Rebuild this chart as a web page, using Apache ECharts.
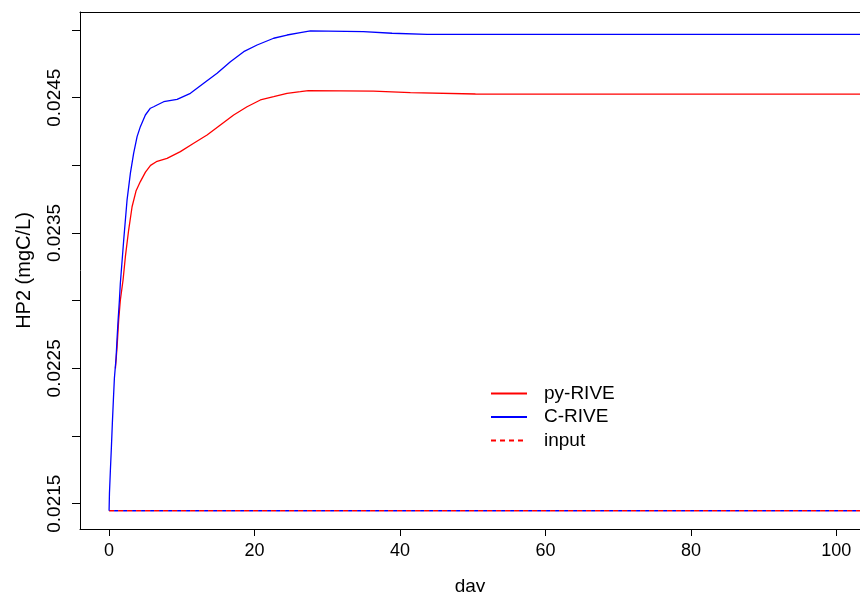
<!DOCTYPE html>
<html>
<head>
<meta charset="utf-8">
<script src="https://cdn.jsdelivr.net/npm/echarts@6/dist/echarts.min.js"></script>
<style>
  html, body { margin: 0; padding: 0; background: #fff; }
  #chart { width: 860px; height: 592px; }
</style>
</head>
<body>
<div id="chart"></div>
<script>
// HP2 concentration (mgC/L) over simulation days, two model versions and the input level
const pyRiveDay = [0.87, 1.10, 1.32, 1.55, 1.92, 2.24, 2.69, 3.16, 3.70, 4.30, 5.00, 5.70, 6.60, 7.97, 9.80, 11.63, 13.47, 15.30, 17.13, 18.97, 20.80, 22.63, 24.47, 26.30, 27.40, 36.34, 41.43, 50.37, 75.0, 104.0];
const pyRiveVal = [0.022500, 0.022660, 0.022857, 0.023005, 0.023153, 0.023325, 0.023522, 0.023694, 0.023810, 0.023880, 0.023950, 0.024000, 0.024030, 0.024052, 0.024101, 0.024163, 0.024224, 0.024298, 0.024372, 0.024433, 0.024483, 0.024507, 0.024532, 0.024544, 0.024552, 0.024549, 0.024537, 0.024527, 0.024526, 0.024526];

const cRiveDay = [0, 0.05, 0.18, 0.32, 0.45, 0.59, 0.73, 0.96, 1.10, 1.24, 1.42, 1.55, 2.01, 2.47, 2.93, 3.38, 3.85, 4.30, 4.99, 5.68, 6.13, 6.60, 7.51, 9.35, 11.18, 13.01, 14.85, 16.68, 18.51, 20.35, 22.63, 24.47, 26.30, 27.68, 34.97, 38.91, 43.72, 70.0, 104.0];
const cRiveVal = [0.021448, 0.021577, 0.021749, 0.021921, 0.022096, 0.022266, 0.022429, 0.022577, 0.022724, 0.022857, 0.023005, 0.023131, 0.023448, 0.023744, 0.023943, 0.024091, 0.024212, 0.024286, 0.024372, 0.024422, 0.024433, 0.024446, 0.024470, 0.024488, 0.024532, 0.024606, 0.024680, 0.024766, 0.024840, 0.024889, 0.024939, 0.024963, 0.024980, 0.024993, 0.024988, 0.024976, 0.024968, 0.024968, 0.024968];

const inputDay = [0, 104.0];
const inputVal = [0.021448, 0.021448];

const xTickValues = [0, 20, 40, 60, 80, 100];
const yTickValues = [0.0215, 0.022, 0.0225, 0.023, 0.0235, 0.024, 0.0245, 0.025];
const yLabelValues = [0.0215, 0.0225, 0.0235, 0.0245];
const yTickLabels = ['0.0215', '0.0225', '0.0235', '0.0245'];

const pairs = (xs, ys) => xs.map((x, i) => [x, ys[i]]);
const FONT = 'Liberation Sans, Arial, sans-serif';
const X_MIN = -4.0, X_MAX = 103.25;
const Y_MIN = 0.021313, Y_MAX = 0.025133;

const chart = echarts.init(document.getElementById('chart'), null, { renderer: 'canvas' });
chart.setOption({
  animation: false,
  backgroundColor: '#ffffff',
  textStyle: { fontFamily: FONT, color: '#000' },
  grid: { left: 80, top: 12, right: 0, bottom: 63, show: false, outerBoundsMode: 'none', containLabel: false },
  xAxis: [
    {
      type: 'value',
      min: X_MIN, max: X_MAX,
      position: 'bottom',
      name: 'day',
      nameLocation: 'middle',
      nameGap: 48,
      nameTextStyle: { fontFamily: FONT, fontSize: 19, color: '#000' },
      axisLine: { show: true, onZero: false, lineStyle: { color: '#000', width: 1 } },
      axisTick: { show: true, customValues: xTickValues, length: 7, lineStyle: { color: '#000', width: 1 } },
      axisLabel: { customValues: xTickValues, margin: 13, fontFamily: FONT, fontSize: 18, color: '#000' },
      splitLine: { show: false }
    },
    {
      // top edge of the plot frame
      type: 'value',
      min: X_MIN, max: X_MAX,
      position: 'top',
      axisLine: { show: true, onZero: false, lineStyle: { color: '#000', width: 1 } },
      axisTick: { show: false },
      axisLabel: { show: false },
      splitLine: { show: false }
    }
  ],
  yAxis: {
    type: 'value',
    min: Y_MIN, max: Y_MAX,
    name: 'HP2 (mgC/L)',
    nameLocation: 'middle',
    nameGap: 46,
    nameTextStyle: { fontFamily: FONT, fontSize: 20, color: '#000' },
    axisLine: { show: true, onZero: false, lineStyle: { color: '#000', width: 1 } },
    axisTick: { show: true, customValues: yTickValues, length: 8, lineStyle: { color: '#000', width: 1 } },
    axisLabel: {
      customValues: yLabelValues,
      rotate: 90,
      margin: 16,
      fontFamily: FONT, fontSize: 19, color: '#000',
      formatter: (v) => {
        const i = yLabelValues.findIndex(t => Math.abs(t - v) < 1e-9);
        return i >= 0 ? yTickLabels[i] : '';
      }
    },
    splitLine: { show: false }
  },
  legend: {
    orient: 'vertical',
    left: 490, top: 384,
    padding: 0,
    itemWidth: 36, itemHeight: 14, itemGap: 4.5,
    data: ['py-RIVE', 'C-RIVE', 'input'],
    itemStyle: { color: 'transparent', borderColor: 'transparent', borderWidth: 0, opacity: 0 },
    textStyle: { fontFamily: FONT, fontSize: 19, color: '#000', padding: [0, 0, 0, 12] }
  },
  series: [
    {
      name: 'C-RIVE input', type: 'line', symbol: 'none', silent: true,
      data: pairs(inputDay, inputVal),
      lineStyle: { color: '#0000ff', width: 1.3, type: [4, 5], dashOffset: 4 },
      itemStyle: { color: '#0000ff' }, z: 2
    },
    {
      name: 'input', type: 'line', symbol: 'none',
      data: pairs(inputDay, inputVal),
      lineStyle: { color: '#ff0000', width: 1.3, type: [5, 4] },
      itemStyle: { color: '#ff0000' }, z: 2
    },
    {
      name: 'py-RIVE', type: 'line', symbol: 'none',
      data: pairs(pyRiveDay, pyRiveVal),
      lineStyle: { color: '#ff0000', width: 1.3 },
      itemStyle: { color: '#ff0000' }, z: 3
    },
    {
      name: 'C-RIVE', type: 'line', symbol: 'none',
      data: pairs(cRiveDay, cRiveVal),
      lineStyle: { color: '#0000ff', width: 1.3 },
      itemStyle: { color: '#0000ff' }, z: 4
    }
  ]
});
</script>
</body>
</html>
